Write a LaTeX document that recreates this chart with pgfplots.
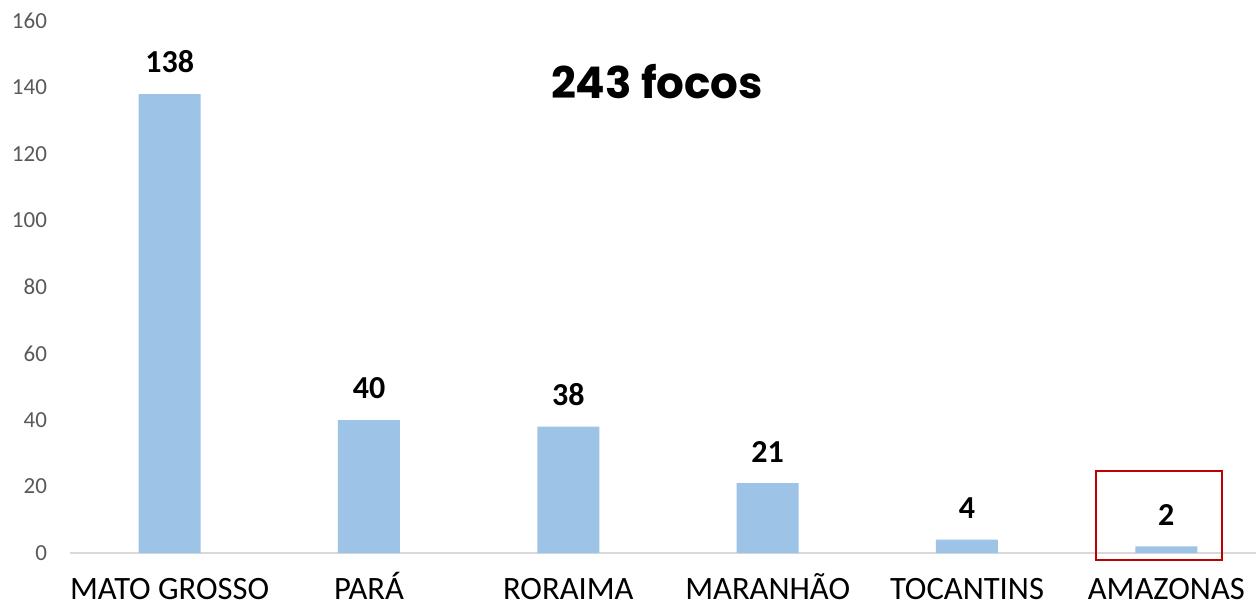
\documentclass[border=0pt]{standalone}
\usepackage{fontspec}
\setmainfont{Carlito}
\newfontfamily\titlefont{Poppins}[UprightFont=* Bold]
\usepackage{pgfplots}
\pgfplotsset{compat=1.18}
\definecolor{barblue}{HTML}{9DC3E6}
\definecolor{axisgray}{HTML}{D9D9D9}
\definecolor{ticktext}{HTML}{595959}
\definecolor{boxred}{HTML}{C00000}
\begin{document}
\begin{tikzpicture}
\begin{axis}[
  at={(0,0)}, anchor=south west,
  scale only axis, width=593pt, height=266pt,
  xmin=-0.5, xmax=5.45, ymin=0, ymax=160,
  axis y line=none, axis x line*=bottom,
  x axis line style={draw=axisgray, line width=0.8pt, -},
  xtick={0,...,5},
  xticklabels={MATO GROSSO,PARÁ,RORAIMA,MARANHÃO,TOCANTINS,AMAZONAS},
  major tick length=0pt,
  xticklabel style={font=\fontsize{16.3}{18}\selectfont, text=black, anchor=base,
    inner sep=0pt, outer sep=0pt, yshift=-23pt},
  /pgf/number format/assume math mode=true,
  clip=false,
]
\addplot[ybar, bar width=31pt, fill=barblue, draw=none,
  nodes near coords, nodes near coords style={font=\bfseries\fontsize{16}{18}\selectfont, text=black, yshift=7pt}]
  coordinates {(0,138) (1,40) (2,38) (3,21) (4,4) (5,2)};
% y tick labels (the y axis itself is hidden)
\pgfplotsinvokeforeach{0,20,...,160}{
  \node[anchor=east, text=ticktext, font=\fontsize{11.5}{13}\selectfont] at (axis cs:-0.5,#1) [xshift=-8pt] {#1};
}
\draw[boxred, line width=1pt] (axis cs:4.648,-2.1) rectangle (axis cs:5.28,24.66);
\node[font=\titlefont\fontsize{21.8}{26}\selectfont] at (axis cs:2.445,141.7) {243 focos};
\end{axis}
\pgfresetboundingbox
\path (-35pt,-27pt) rectangle (593pt,276.5pt);
\end{tikzpicture}
\end{document}
